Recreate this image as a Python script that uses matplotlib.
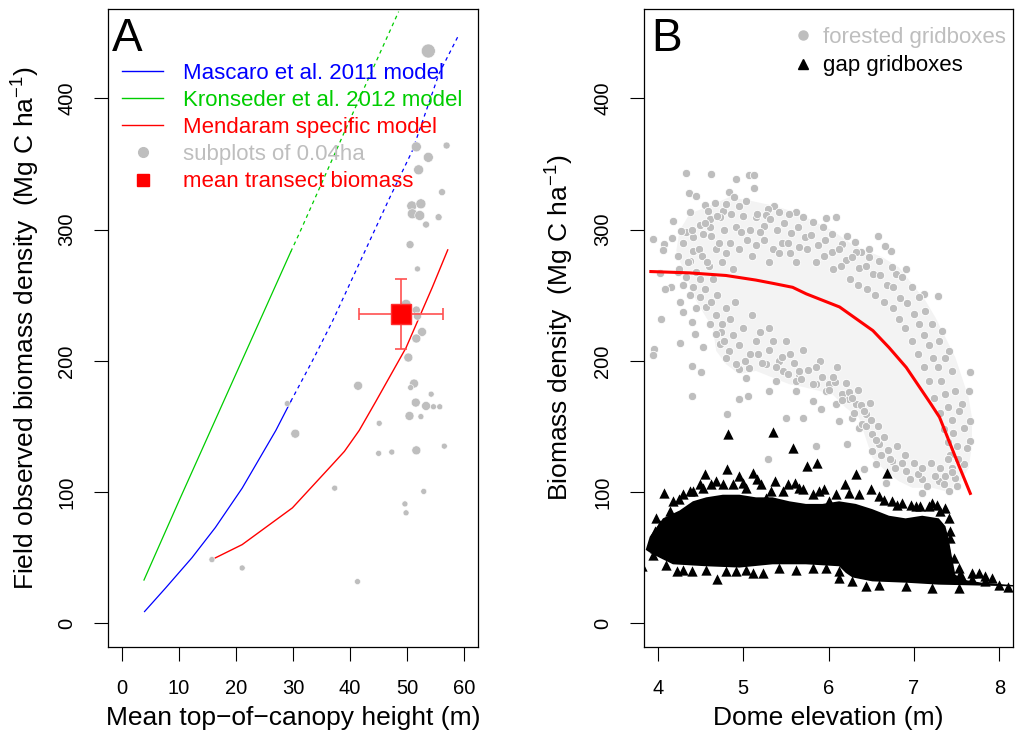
import matplotlib
matplotlib.use('Agg')
import matplotlib.pyplot as plt
from matplotlib.lines import Line2D

plt.rcParams['font.family'] = ['Liberation Sans', 'DejaVu Sans']
plt.rcParams['mathtext.default'] = 'regular'

# ---------------- panel A: canopy height vs field biomass ----------------
mascaro_h = [4.0, 7.7, 12.3, 16.4, 21.1, 27.0, 29.6]
mascaro_b = [9, 27, 50, 73, 103, 147, 169]
mascaro_h_ext = [29.6, 33.4, 36.9, 46.8, 50.9, 55.6, 59.0]
mascaro_b_ext = [169, 200, 230, 323, 360, 419, 448]

kron_h = [3.9, 10.0, 29.6]
kron_b = [33, 93, 283]
kron_h_ext = [29.6, 31.1, 40.0, 48.5]
kron_b_ext = [283, 297, 384, 466]

mend_h = [15.8, 21.1, 29.9, 36.9, 39.0, 41.6, 44.5, 49.8, 54.4, 57.1]
mend_b = [48.6, 60, 88, 121, 131, 147, 169, 210, 256, 284.5]

sub_h = [53.7, 51.6, 56.9, 53.7, 52.0, 56.1, 50.8, 52.4, 50.9, 52.2, 53.3, 55.5,
         50.5, 51.8, 49.8, 51.6, 51.8, 52.6, 51.6, 50.2, 41.4, 51.2, 50.6, 54.2,
         51.5, 53.3, 54.6, 55.7, 50.4, 52.4, 45.1, 45.0, 47.3, 51.6, 56.5, 37.3,
         52.9, 49.6, 49.8, 41.3, 30.4, 15.8, 21.1, 29.0]
sub_b = [436, 363, 364, 355, 345.5, 328.5, 318, 319.6, 312, 310.7, 303.8, 309.4,
         288.5, 270, 243, 238.7, 234, 222, 217, 202.5, 181, 182.7, 179.6, 174.6,
         168.2, 165.6, 165, 165, 158, 157.5, 152.4, 129.5, 130.5, 131.8, 135, 103,
         100.5, 91, 84.2, 31.8, 144.5, 48.6, 42.2, 167.4]
sub_cex = [1.4, 1.0, 0.7, 1.0, 1.0, 0.7, 1.0, 1.0, 1.0, 1.0, 0.7, 0.7,
           0.8, 0.6, 1.0, 0.8, 0.8, 0.9, 0.9, 0.9, 0.9, 0.9, 0.6, 0.6,
           0.9, 0.9, 0.6, 0.6, 0.9, 0.6, 0.6, 0.6, 0.6, 0.9, 0.6, 0.6,
           0.6, 0.6, 0.6, 0.6, 0.9, 0.6, 0.6, 0.6]

mean_h, mean_h_sd = 48.9, 7.4
mean_b, mean_b_sd = 235.5, 26.5

# ---------------- panel B: dome elevation vs biomass ----------------
forest_elev = [4.327, 4.619, 4.918, 5.074, 5.132, 5.132, 4.366, 4.451, 4.833, 4.899,
               4.677, 4.549, 4.587, 4.381, 4.179, 3.946, 4.070, 4.062, 4.167, 4.237,
               4.023, 4.160, 4.082, 4.265, 4.296, 4.043, 4.401, 4.432, 4.265, 4.529,
               3.953, 3.946, 4.405, 4.502, 4.401, 4.809, 4.957, 5.054, 5.288, 5.502,
               5.696, 5.859, 6.221, 5.910, 5.385, 5.307, 5.618, 5.813, 6.085, 6.124,
               6.357, 6.416, 6.552, 6.669, 7.097, 7.408, 7.653, 7.653, 7.653, 7.641,
               7.563, 7.408, 7.330, 7.279, 7.116, 6.902, 6.785, 6.735, 6.661, 6.579,
               6.474, 6.377, 6.221, 6.311, 6.085, 5.968, 5.618, 5.365, 5.288, 5.035,
               4.957, 4.763, 4.615, 4.490, 4.335, 4.276, 4.412, 4.237, 4.743, 4.685,
               4.840, 4.957, 5.035, 5.171, 5.424, 5.657, 5.852, 5.968, 6.241, 6.435,
               6.513, 6.591, 6.746, 6.902, 7.097, 7.291, 7.486, 7.583, 7.622, 7.583,
               7.524, 7.486, 7.447, 7.369, 7.291, 7.213, 7.135, 7.058, 6.980, 6.863,
               6.746, 6.591, 6.474, 6.319, 6.163, 6.046, 5.930, 5.813, 5.696, 5.541,
               5.424, 5.268, 5.152, 4.801, 4.724, 4.607, 4.529, 4.412, 4.374, 4.335,
               4.412, 4.490, 4.568, 4.607, 4.724, 4.801, 4.918, 5.074, 5.268, 5.463,
               5.618, 5.813, 6.007, 6.163, 6.319, 6.280, 6.396, 6.513,
               # inner rows of the upper band
               4.30, 4.40, 4.48, 4.55, 4.62, 4.70, 4.78, 4.86, 4.92, 5.00,
               5.08, 5.16, 5.24, 5.32, 5.40, 5.48, 5.56, 5.64, 5.72, 5.80,
               5.88, 5.96, 6.04, 6.12, 6.20, 6.28, 6.36, 6.44, 6.52, 6.60,
               6.68, 6.76, 6.84, 6.92, 7.00, 7.06, 7.12, 7.18, 7.22, 7.28,
               7.32, 7.36, 7.40, 7.44, 7.46, 7.50, 7.52, 7.44, 7.36,
               4.35, 4.45, 4.52, 4.60, 4.68, 4.75, 4.85, 4.95, 5.05, 5.15,
               5.25, 5.35, 5.45, 5.55, 5.65,
               4.25, 4.30, 4.38, 4.45, 4.50, 4.58, 4.65, 4.72, 4.80, 4.88,
               4.98, 5.10, 5.20, 5.30, 5.42, 5.52, 5.62, 5.75, 5.85, 5.95,
               6.05, 6.15, 6.25, 6.35, 6.45, 6.55, 6.65, 6.75, 6.82, 6.90,
               6.98, 7.05, 7.12, 7.18, 7.24, 7.30, 7.35, 7.40, 7.42,
               # lower band
               4.55, 4.62, 4.68, 4.75, 4.80, 4.88, 4.95, 5.00, 5.08, 5.15,
               5.22, 5.30, 5.38, 5.45, 5.52, 5.60, 5.68, 5.76, 5.92, 6.00,
               6.08, 6.16, 6.24, 6.30, 6.38, 6.44, 6.50, 6.56, 6.62, 6.70,
               6.78, 6.86, 6.95, 7.05, 7.15, 7.25, 7.35, 7.45,
               4.90, 5.10, 5.30, 5.50, 5.70, 5.90, 6.10,
               4.70, 4.78, 4.85, 5.02, 5.20, 5.35, 5.55, 5.65, 5.85, 6.05,
               6.20, 6.28, 6.35, 6.42, 6.48, 6.58, 6.65, 6.72, 6.80, 6.90,
               7.00, 7.10, 7.20, 7.30, 7.40, 7.50]
forest_bio = [343.0, 342.0, 338.4, 341.7, 341.7, 331.8, 328.0, 325.9, 328.5, 324.7,
              320.3, 318.8, 314.0, 313.2, 306.3, 292.9, 289.0, 284.5, 293.6, 280.1,
              266.6, 256.5, 254.7, 244.5, 236.9, 231.8, 229.2, 220.3, 213.2, 210.7,
              208.9, 204.5, 196.1, 191.8, 173.2, 159.2, 170.7, 173.2, 124.9, 156.7,
              156.7, 135.1, 136.3, 163.1, 184.7, 177.1, 177.1, 169.4, 166.9, 154.2,
              149.1, 117.3, 121.1, 107.1, 99.4, 100.7, 191.6, 154.2, 138.9, 177.1,
              166.9, 207.6, 222.9, 249.1, 250.9, 270.0, 266.1, 284.0, 287.8, 294.9,
              285.2, 282.7, 294.9, 290.3, 309.9, 308.6, 313.7, 317.8, 315.8, 321.6,
              318.3, 314.5, 308.1, 303.8, 297.9, 299.2, 284.0, 267.4, 221.6, 220.3,
              207.6, 193.6, 187.2, 205.1, 200.0, 189.8, 182.2, 177.1, 170.7, 159.2,
              144.0, 136.3, 123.6, 116.0, 109.6, 108.3, 110.9, 121.1, 133.8, 149.1,
              161.8, 177.1, 192.3, 202.5, 215.2, 228.0, 238.1, 248.3, 256.0, 263.6,
              271.2, 276.3, 278.9, 282.7, 289.0, 296.7, 301.8, 305.6, 309.4, 312.0,
              313.2, 310.7, 309.4, 319.6, 309.4, 301.8, 296.7, 294.1, 276.3, 263.6,
              256.0, 248.3, 240.7, 228.0, 212.7, 202.5, 197.4, 194.9, 197.4, 192.3,
              184.7, 182.2, 182.2, 174.5, 166.9, 156.7, 151.6, 131.3,
              290, 300, 285, 305, 295, 310, 300, 312, 302, 310,
              300, 312, 303, 308, 300, 305, 297, 302, 294, 296,
              288, 292, 283, 285, 277, 279, 271, 272, 266, 265,
              258, 256, 248, 244, 236, 228, 220, 212, 202, 195,
              185, 175, 165, 155, 145, 135, 125, 118, 112,
              275, 268, 280, 272, 285, 275, 290, 285, 292, 288,
              292, 285, 290, 282, 287,
              270, 258, 250, 240, 262, 275, 262, 290, 282, 270,
              298, 280, 298, 275, 282, 290, 275, 285, 275, 280,
              270, 272, 262, 258, 255, 250, 245, 240, 232, 225,
              215, 205, 195, 185, 172, 160, 148, 138, 128,
              255, 245, 235, 228, 240, 220, 212, 225, 205, 215,
              198, 208, 195, 203, 190, 198, 186, 193, 188, 178,
              184, 170, 176, 160, 166, 150, 155, 140, 128, 132,
              118, 122, 110, 114, 105, 112, 106, 115,
              245, 235, 225, 215, 208, 200, 195,
              250, 215, 232, 200, 222, 215, 205, 192, 195, 188,
              183, 172, 178, 162, 168, 150, 142, 125, 135, 128,
              122, 118, 122, 118, 125, 105]

# outline of the dense forested cloud
forest_hull_elev = [4.218, 4.257, 4.374, 4.568, 4.840, 5.074, 5.346, 5.618, 5.852, 6.046,
                    6.241, 6.435, 6.630, 6.824, 6.980, 7.135, 7.252, 7.369, 7.486, 7.563,
                    7.641, 7.680, 7.680, 7.641, 7.524, 7.369, 7.213, 6.980, 6.824, 6.669,
                    6.513, 6.435, 6.357, 6.202, 6.046, 5.891, 5.735, 5.541, 5.346, 5.152,
                    4.957, 4.801, 4.685, 4.646, 4.568, 4.451, 4.374, 4.257]
forest_hull_bio = [284, 299.2, 312, 317, 324.7, 322.1, 318.3, 313.2, 305.6, 299.2,
                   290.3, 284, 278.9, 271.2, 258.5, 245.8, 233, 217.8, 202.5, 187.2,
                   172, 156.7, 136.3, 118.5, 105.8, 100.7, 103.3, 103.3, 108.3, 116,
                   126.2, 141.4, 156.7, 164.3, 174.5, 177.1, 179.6, 182.2, 187.2, 192.3,
                   189.8, 197.4, 207.6, 225.4, 233, 245.8, 258.5, 276.3]

gap_elev = [4.821, 5.354, 5.587, 5.754, 5.863, 6.326, 6.680, 4.549, 4.809, 4.949,
            5.113, 5.159, 5.373, 5.603, 5.949, 6.190, 6.501, 4.070, 4.245, 4.412,
            4.685, 5.463, 5.696, 6.863, 7.213, 7.369, 3.965, 3.946, 4.140, 4.226,
            4.405, 4.692, 4.918, 5.113, 5.229, 6.124, 6.435, 7.680, 7.913, 7.544,
            7.427, 7.369, 7.174, 7.019, 6.746, 6.007, 5.813, 5.268, 5.035, 4.879,
            4.490, 4.374, 7.563, 7.679, 7.835, 7.991, 8.107, 3.820, 3.977,
            4.179, 4.296, 4.529, 4.626, 4.763, 4.996, 5.210, 5.327, 5.521, 5.657,
            5.891, 6.085, 6.241, 6.357, 6.591, 6.649, 6.805, 6.960, 7.077, 7.272,
            7.310, 7.408, 7.427, 7.466, 7.524, 7.758, 7.836, 3.985, 3.946, 3.965,
            4.023, 4.101, 4.296, 4.568, 4.801, 5.035, 5.424, 5.618, 5.813, 5.968,
            6.124, 6.280, 6.591, 6.902, 7.213, 7.524]
gap_bio = [144.0, 146.0, 133.8, 119.8, 121.8, 113.9, 114.2, 113.9, 117.8, 112.2,
           114.2, 110.1, 108.3, 107.1, 102.0, 105.8, 102.7, 99.4, 94.4, 101.2,
           108.3, 100.7, 102.0, 91.8, 91.8, 88.0, 70.2, 52.4, 85.4, 39.6,
           39.6, 33.8, 39.6, 38.4, 38.4, 34.5, 28.2, 38.4, 34.5, 37.6,
           70.2, 60.0, 89.3, 89.3, 93.1, 93.1, 98.2, 95.6, 103.3, 105.8,
           105.8, 100.7, 35, 34, 32, 29, 28, 44, 69,
           93.1, 98.2, 103.3, 105.8, 105.8, 107.1, 105.8, 100.7, 105.8, 103.3,
           100.7, 98.2, 99.4, 98.2, 96.9, 94.3, 90.5, 90.5, 89.3, 90.5,
           85.4, 80.4, 65.1, 49.8, 42.2, 38.4, 35.8, 80.4, 65.1, 57.4,
           75.3, 44.7, 40.9, 40.9, 40.1, 40.9, 42.2, 40.9, 42.2, 42.2,
           39.6, 32.0, 29.5, 28.2, 26.9, 26.9]

# outline of the solid mass of gap triangles
gap_hull_elev = [3.86, 3.907, 4.062, 4.257, 4.412, 4.568, 4.763, 4.957, 5.152, 5.346,
                 5.541, 5.735, 5.930, 6.124, 6.319, 6.513, 6.708, 6.902, 7.097, 7.291,
                 7.369, 7.408, 7.447, 7.486, 7.602, 7.797, 7.991, 8.2,
                 8.2, 7.991, 7.291, 6.902, 6.513, 6.280, 6.202, 6.124, 5.735, 5.346,
                 4.957, 4.568, 4.179, 4.023, 3.907, 3.86]
gap_hull_bio = [56, 66, 80, 86, 93, 96, 98, 98, 96, 96,
                93, 91, 91, 93, 91, 87, 82, 80, 82, 80,
                74, 64, 50, 37, 33, 31, 30, 29,
                28, 28.5, 29.5, 31, 32, 35, 38.5, 43.5, 45, 45,
                42.5, 43.5, 45, 50, 54, 56]

fit_elev = [3.92, 4.37, 4.8, 5.15, 5.35, 5.58, 5.74, 6.13, 6.52, 6.71, 6.91, 7.19, 7.3, 7.49, 7.66]
fit_bio = [268, 267, 265, 261.5, 259, 256, 251, 241, 223, 210, 195, 168, 157, 126, 99]

GRAY = '#BEBEBE'
GREEN = '#00CD00'

fig = plt.figure(figsize=(10.15, 7.36), dpi=100)
axA = fig.add_axes([108/1015, 89/736, 370/1015, 638/736])
axB = fig.add_axes([644/1015, 89/736, 369/1015, 638/736])

# --- A
axA.plot(mascaro_h, mascaro_b, color='blue', lw=0.9)
axA.plot(mascaro_h_ext, mascaro_b_ext, color='blue', lw=0.9, dashes=(3, 3))
axA.plot(kron_h, kron_b, color=GREEN, lw=0.9)
axA.plot(kron_h_ext, kron_b_ext, color=GREEN, lw=0.9, dashes=(3, 3))
axA.plot(mend_h, mend_b, color='red', lw=1.0)
axA.scatter(sub_h, sub_b, s=[(c*10*0.72)**2 for c in sub_cex], color=GRAY,
            edgecolors='white', linewidths=0.4, zorder=3)
axA.errorbar(mean_h, mean_b, xerr=mean_h_sd, yerr=mean_b_sd, fmt='none',
             ecolor='#ff5050', elinewidth=1.2, capsize=4.3, capthick=1.2, zorder=4)
axA.plot(mean_h, mean_b, marker='s', ms=15, color='red', mec='#ff3030', zorder=5)

hA = [Line2D([], [], color='blue', lw=1),
      Line2D([], [], color=GREEN, lw=1),
      Line2D([], [], color='red', lw=1),
      Line2D([], [], ls='none', marker='o', ms=7, color=GRAY),
      Line2D([], [], ls='none', marker='s', ms=8, color='red')]
lA = ['Mascaro et al. 2011 model', 'Kronseder et al. 2012 model',
      'Mendaram specific model', 'subplots of 0.04ha', 'mean transect biomass']
axA.legend(hA, lA, loc='upper left', bbox_to_anchor=(0.038, 0.916), frameon=False,
           fontsize=16, labelcolor=['blue', GREEN, 'red', GRAY, 'red'],
           handlelength=1.85, handletextpad=0.9, labelspacing=0.28,
           borderpad=0, borderaxespad=0)

axA.set_xlim(-2.4, 62.4)
axA.set_ylim(-18, 468)
axA.set_xticks(range(0, 61, 10))
axA.set_xlabel('Mean top\u2212of\u2212canopy height (m)', fontsize=19)
axA.set_ylabel('Field observed biomass density  (Mg C ha$^{-1}$)', fontsize=19)
axA.text(0.01, 0.988, 'A', transform=axA.transAxes, fontsize=33, va='top', ha='left')

# --- B
axB.fill(forest_hull_elev, forest_hull_bio, color='#f3f3f3', lw=0, zorder=1)
axB.scatter(forest_elev, forest_bio, s=36, color=GRAY, edgecolors='white',
            linewidths=0.6, zorder=2)
axB.plot(fit_elev, fit_bio, color='red', lw=2.2, zorder=3)
axB.fill(gap_hull_elev, gap_hull_bio, color='black', lw=0, zorder=4)
axB.scatter(gap_elev, gap_bio, s=55, marker='^', color='black', linewidths=0, zorder=5)

hB = [Line2D([], [], ls='none', marker='o', ms=6.5, color=GRAY),
      Line2D([], [], ls='none', marker='^', ms=7.5, color='black')]
axB.legend(hB, ['forested gridboxes', 'gap gridboxes'], loc='upper left',
           bbox_to_anchor=(0.401, 0.972), frameon=False, fontsize=16,
           labelcolor=[GRAY, 'black'], handlelength=1.0, handletextpad=0.4,
           labelspacing=0.34, borderpad=0, borderaxespad=0)

axB.set_xlim(3.84, 8.16)
axB.set_ylim(-18, 468)
axB.set_xticks(range(4, 9))
axB.set_xlabel('Dome elevation (m)', fontsize=19)
axB.set_ylabel('Biomass density  (Mg C ha$^{-1}$)', fontsize=19)
axB.text(0.02, 0.988, 'B', transform=axB.transAxes, fontsize=33, va='top', ha='left')

for ax in (axA, axB):
    ax.set_yticks(range(0, 401, 100))
    ax.tick_params(direction='out', length=10, width=0.8, labelsize=14.5, pad=13)
    for lab in ax.get_yticklabels():
        lab.set_rotation(90)
        lab.set_va('center')
    for sp in ax.spines.values():
        sp.set_linewidth(0.9)
    ax.xaxis.set_label_coords(0.5, -0.0925)

axA.yaxis.set_label_coords(-0.178, 0.5)
axB.yaxis.set_label_coords(-0.184, 0.5)

fig.savefig('out.png', dpi=100)
